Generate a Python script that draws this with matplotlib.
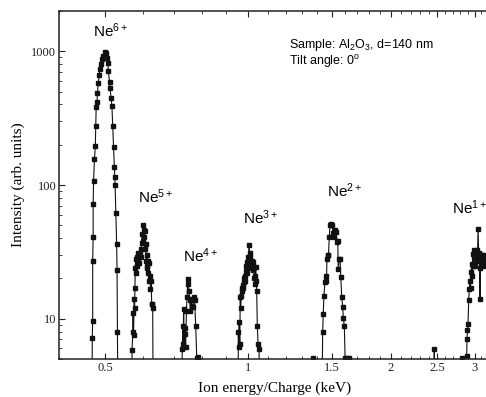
import numpy as np
import matplotlib
matplotlib.use("Agg")
import matplotlib.pyplot as plt
from matplotlib.ticker import FixedLocator, FixedFormatter, LogLocator, NullFormatter

plt.rcParams["font.family"] = ["Liberation Serif", "DejaVu Serif"]
plt.rcParams["mathtext.fontset"] = "custom"
plt.rcParams["mathtext.rm"] = "Liberation Sans"
plt.rcParams["mathtext.it"] = "Liberation Sans:italic"

# ---------------------------------------------------------------
# spectrum (keV, arb. units); 1 = below axis
# ---------------------------------------------------------------
e6 = [0.469, 0.470, 0.471, 0.471, 0.472, 0.472, 0.473, 0.475, 0.477, 0.478,
      0.479, 0.481, 0.482, 0.484, 0.486, 0.488, 0.490, 0.493, 0.496, 0.499,
      0.502, 0.504, 0.507, 0.508, 0.511, 0.512, 0.515, 0.517, 0.519, 0.521,
      0.523, 0.524, 0.525, 0.527, 0.529, 0.530, 0.531, 0.533]
i6 = [1, 7.2, 9.7, 27, 41, 72, 107, 156, 196, 274,
      384, 421, 489, 582, 660, 741, 809, 871, 922, 988,
      978, 897, 822, 716, 588, 533, 449, 388, 274, 194,
      137, 115, 100, 62, 36, 23, 7.9, 1]

e5 = [0.569, 0.570, 0.572, 0.573, 0.574, 0.576, 0.577, 0.578, 0.579, 0.580,
      0.581, 0.583, 0.585, 0.586, 0.588, 0.589, 0.590, 0.592, 0.594, 0.596,
      0.597, 0.599, 0.600, 0.602, 0.603, 0.604, 0.606, 0.607, 0.609, 0.610,
      0.612, 0.613, 0.614, 0.616, 0.617, 0.619, 0.620, 0.622, 0.623, 0.625,
      0.627, 0.629, 0.630, 0.632]
i5 = [1, 5.8, 8, 11, 7.5, 14, 12, 17, 24, 28,
      22, 29, 25, 31, 27, 30, 26, 31, 29, 33,
      37, 43, 38, 50, 46, 41, 45, 33, 36, 27,
      25, 30, 24, 27, 22, 26, 19, 21, 16.7, 19,
      13, 12.9, 12, 1]

e4 = [0.725, 0.727, 0.729, 0.730, 0.732, 0.734, 0.736, 0.737, 0.739, 0.742,
      0.744, 0.747, 0.749, 0.751, 0.754, 0.756, 0.759, 0.762, 0.765, 0.769,
      0.772, 0.776, 0.780, 0.783, 0.786]
i4 = [1, 5.9, 8.9, 6.5, 11.8, 6.1, 8.6, 7.7, 6.1, 11.5,
      14.5, 19.9, 18.2, 16.2, 13.7, 11.5, 14, 12.5, 12.2, 14.5,
      13.7, 8.9, 5.1, 5.2, 1]

e3 = [0.953, 0.954, 0.956, 0.958, 0.961, 0.963, 0.965, 0.968, 0.970, 0.973,
      0.975, 0.977, 0.980, 0.982, 0.985, 0.986, 0.989, 0.992, 0.994, 0.997,
      0.999, 1.002, 1.005, 1.008, 1.010, 1.013, 1.015, 1.018, 1.023, 1.026,
      1.028, 1.031, 1.033, 1.036, 1.038, 1.041, 1.043, 1.046, 1.050, 1.055,
      1.060]
i3 = [1, 7.9, 6.2, 9.5, 6.5, 14.5, 12, 14.9, 17, 16.2,
      18, 17, 18.7, 20, 21, 19, 22.9, 25, 22, 26.5,
      24, 29, 35.4, 31, 29, 26, 24.3, 27, 26.5, 23,
      24.3, 20, 18.2, 21, 24.3, 19, 16.2, 8.9, 6.5, 5.9,
      1]

e2 = [1.362, 1.368, 1.374, 1.428, 1.436, 1.440, 1.445, 1.452, 1.459, 1.463,
      1.466, 1.472, 1.477, 1.483, 1.488, 1.495, 1.503, 1.510, 1.517, 1.525,
      1.532, 1.540, 1.545, 1.549, 1.555, 1.562, 1.568, 1.575, 1.583, 1.587,
      1.595, 1.601, 1.608, 1.616, 1.634, 1.645]
i2 = [1, 5.05, 1, 1, 7.9, 10.8, 14.9, 18.7, 21, 19,
      28.1, 29.8, 30, 40.9, 50, 51.5, 50, 43.4, 40.9, 45.8,
      44.5, 37.4, 38, 23.6, 28.1, 28, 20.4, 14.5, 12.2, 10.2,
      8.9, 5.1, 5.1, 1, 5.05, 1]

e_iso = [2.455, 2.467, 2.479]
i_iso = [1, 5.9, 1]

e1 = [2.805, 2.818, 2.830, 2.882, 2.887, 2.891, 2.898, 2.905, 2.915, 2.924,
      2.934, 2.941, 2.948, 2.958, 2.965, 2.972, 2.981, 2.988, 2.995, 3.003,
      3.010, 3.015, 3.020, 3.028, 3.035, 3.043, 3.050, 3.060, 3.069, 3.079,
      3.085, 3.090, 3.097, 3.105, 3.115, 3.124, 3.135, 3.147, 3.160, 3.175]
i1 = [1, 5.05, 1, 1, 5.3, 7.0, 8.2, 9.1, 13.7, 16.7,
      19.3, 17, 22.3, 25.8, 21, 30.6, 25, 29, 32.5, 29,
      25, 31, 30, 27, 32.5, 30, 47.2, 31, 28, 14,
      24, 28, 30, 26, 30, 27, 30, 28, 25, 27]

# peak labels: (text, energy, intensity at baseline)
peak_labels = ["Ne$^{\\mathregular{6+}}$", "Ne$^{\\mathregular{5+}}$",
               "Ne$^{\\mathregular{4+}}$", "Ne$^{\\mathregular{3+}}$",
               "Ne$^{\\mathregular{2+}}$", "Ne$^{\\mathregular{1+}}$"]
label_e = [0.472, 0.587, 0.729, 0.975, 1.466, 2.685]
label_i = [1274, 73.3, 26.5, 51.5, 81.7, 61.2]

xticks = [0.5, 1, 1.5, 2, 2.5, 3]
xtick_labels = ["0.5", "1", "1.5", "2", "2.5", "3"]
yticks = [10, 100, 1000]
ytick_labels = ["10", "100", "1000"]

energy = np.concatenate([e6, e5, e4, e3, e2, e_iso, e1])
counts = np.concatenate([i6, i5, i4, i3, i2, i_iso, i1])

fig = plt.figure(figsize=(4.86, 3.97), dpi=100)
ax = fig.add_axes([59 / 486, 1 - 359 / 397, 427 / 486, 348 / 397])

ax.plot(energy, counts, color="#111111", lw=0.8, marker="s", ms=2.2,
        mfc="#111111", mec="#111111")

ax.set_xscale("log")
ax.set_yscale("log")
ax.set_xlim(0.40, 3.17)
ax.set_ylim(5, 2000)

ax.xaxis.set_major_locator(FixedLocator(xticks))
ax.xaxis.set_major_formatter(FixedFormatter(xtick_labels))
ax.xaxis.set_minor_locator(FixedLocator(np.round(np.arange(0.4, 3.2, 0.1), 2)))
ax.xaxis.set_minor_formatter(NullFormatter())
ax.yaxis.set_major_locator(FixedLocator(yticks))
ax.yaxis.set_major_formatter(FixedFormatter(ytick_labels))
ax.yaxis.set_minor_locator(LogLocator(base=10, subs=np.arange(2, 10)))
ax.yaxis.set_minor_formatter(NullFormatter())

ax.tick_params(which="both", direction="in", top=True, right=False,
               labelsize=9, pad=2, colors="#222222")
ax.tick_params(which="major", length=4, width=0.8)
ax.tick_params(which="minor", length=2, width=0.6)
for side in ["left", "top", "bottom"]:
    ax.spines[side].set_linewidth(1.1)
    ax.spines[side].set_color("#222222")
ax.spines["right"].set_visible(False)

ax.set_xlabel("Ion energy/Charge (keV)", fontsize=11)
ax.set_ylabel("Intensity (arb. units)", fontsize=11)
ax.xaxis.set_label_coords(0.505, -0.065)
ax.yaxis.set_label_coords(-0.08, 0.5)

for txt, xe, yi in zip(peak_labels, label_e, label_i):
    ax.text(xe, yi, txt, fontsize=11, family="Liberation Sans",
            ha="left", va="baseline")

ax.text(0.539, 0.8945, "Sample: Al$_{\\mathregular{2}}$O$_{\\mathregular{3}}$, d=140 nm",
        transform=ax.transAxes, fontsize=9, family="Liberation Sans",
        ha="left", va="baseline")
ax.text(0.539, 0.845, "Tilt angle: 0$^{\\mathregular{o}}$",
        transform=ax.transAxes, fontsize=9, family="Liberation Sans",
        ha="left", va="baseline")

fig.savefig("out.png", dpi=100)
